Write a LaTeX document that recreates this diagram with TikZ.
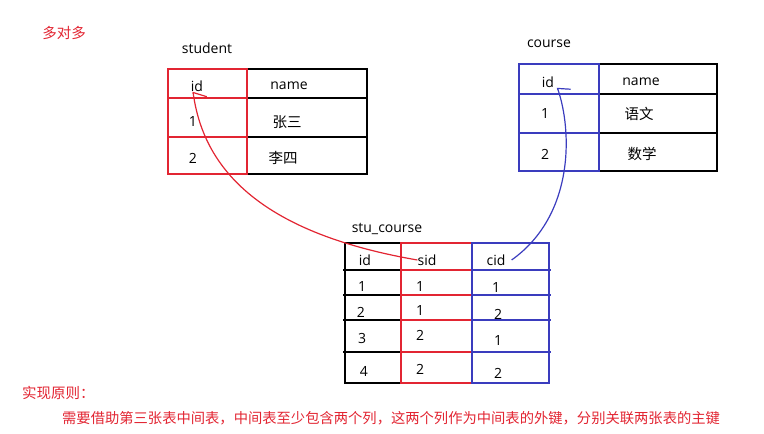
\documentclass[tikz,border=0pt]{standalone}
\usepackage{fontspec}
\setmainfont{Open Sans}
\newfontfamily\cjk{Noto Sans CJK SC}
\usepackage{tikz}
\usetikzlibrary{arrows.meta}
\definecolor{keyred}{RGB}{226,37,50}
\definecolor{keyblue}{RGB}{58,60,190}

\begin{document}
\begin{tikzpicture}[x=1pt,y=-1pt,
	cell/.style={inner sep=0pt,font=\fontsize{14}{16}\selectfont},
	zh/.style={inner sep=0pt,font=\cjk\fontsize{14.5}{16}\selectfont},
	grid/.style={line width=1.6pt,black},
	redgrid/.style={line width=1.6pt,keyred},
	bluegrid/.style={line width=1.6pt,keyblue}]
	\useasboundingbox (0,0) rectangle (764,434);
	\node[zh,text=keyred] (title) at (64,33) {多对多};
	\node[cell] (st) at (207,48) {student};
	\draw[grid] (247,69) rectangle (367,174);
	\draw[grid] (247,98) -- (367,98);
	\draw[grid] (247,137) -- (367,137);
	\draw[redgrid] (168,69) rectangle (247,174);
	\draw[redgrid] (168,98) -- (247,98);
	\draw[redgrid] (168,137) -- (247,137);
	\node[cell] (st-id) at (197,86) {id};
	\node[cell] (st-name) at (289,86) {name};
	\node[cell] (st-1) at (193,122) {1};
	\node[zh] (st-n1) at (287,122) {张三};
	\node[cell] (st-2) at (193,158) {2};
	\node[zh] (st-n2) at (283,158) {李四};
	\node[cell] (co) at (549,44) {course};
	\draw[grid] (599,64) rectangle (717,171);
	\draw[grid] (599,94) -- (717,94);
	\draw[grid] (599,133) -- (717,133);
	\draw[bluegrid] (519,64) rectangle (599,171);
	\draw[bluegrid] (519,94) -- (599,94);
	\draw[bluegrid] (519,133) -- (599,133);
	\node[cell] (co-id) at (548,82) {id};
	\node[cell] (co-name) at (641,82) {name};
	\node[cell] (co-1) at (545,114) {1};
	\node[zh] (co-n1) at (639,114) {语文};
	\node[cell] (co-2) at (545,154) {2};
	\node[zh] (co-n2) at (642,154) {数学};
	\node[cell] (sc) at (387,229) {stu\_course};
	\draw[grid] (345,243) rectangle (401,383);
	\foreach \y in {270,295,320,352}
		\draw[grid] (343,\y) -- (401,\y);
	\draw[redgrid] (401,243) rectangle (472,383);
	\foreach \y in {270,295,320,352}
		\draw[redgrid] (401,\y) -- (472,\y);
	\draw[bluegrid] (472,243) rectangle (549,383);
	\foreach \y in {270,295,320,352}
		\draw[bluegrid] (472,\y) -- (551,\y);
	\node[cell] (sc-id) at (365,260) {id};
	\node[cell] (sc-sid) at (427,260) {sid};
	\node[cell] (sc-cid) at (496,260) {cid};
	\node[cell] (sc-id1) at (362,286) {1};
	\node[cell] (sc-s1) at (420,286) {1};
	\node[cell] (sc-c1) at (496,288) {1};
	\node[cell] (sc-id2) at (361,312) {2};
	\node[cell] (sc-s2) at (420,310) {1};
	\node[cell] (sc-c2) at (498,314) {2};
	\node[cell] (sc-id3) at (362,338) {3};
	\node[cell] (sc-s3) at (420,335) {2};
	\node[cell] (sc-c3) at (498,340) {1};
	\node[cell] (sc-id4) at (364,371) {4};
	\node[cell] (sc-s4) at (420,369) {2};
	\node[cell] (sc-c4) at (498,373) {2};
	\draw[keyred,line width=1.2pt,-{Straight Barb[right,length=6pt,width=26pt]}] (sc-sid.west) .. controls (255,232) and (203,165) .. ([xshift=-4pt]st-id.south);
	\draw[keyblue,line width=1.2pt,-{Straight Barb[right,length=5pt,width=24pt]}] ([xshift=6pt]sc-cid.east) .. controls (575,215) and (572,130) .. ([xshift=3pt]co-id.south east);
	\node[zh,text=keyred,anchor=west] (rule) at (22,393) {实现原则：};
	\node[zh,text=keyred,anchor=west,font=\cjk\fontsize{14.3}{16}\selectfont] (rule-text) at (62,418) {需要借助第三张表中间表，中间表至少包含两个列，这两个列作为中间表的外键，分别关联两张表的主键};
\end{tikzpicture}
\end{document}
